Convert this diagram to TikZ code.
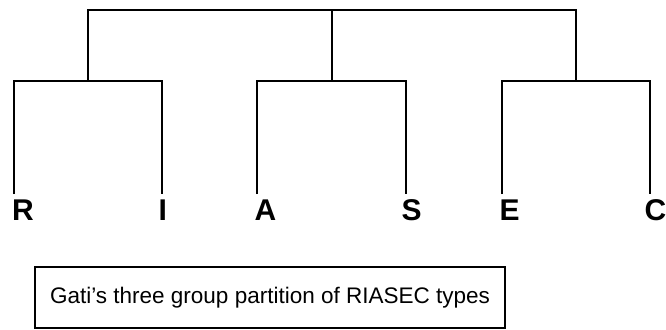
\documentclass[tikz,border=0pt]{standalone}
\usepackage{fontspec}
\setmainfont{Liberation Sans}
\begin{document}
\begin{tikzpicture}[x=1pt,y=-1pt,
  tree/.style={line width=2.5pt, line cap=butt, line join=miter},
  leaf/.style={font=\fontsize{30}{31}\selectfont\bfseries, inner sep=0pt, anchor=north west},
  capbox/.style={draw, line width=1.4pt, minimum width=470pt, minimum height=61pt, inner sep=0pt, font=\fontsize{22.5}{25}\selectfont}]
\useasboundingbox (0,0) rectangle (666,329);
% leaf tops
\coordinate (rt) at (14,194);
\coordinate (it) at (162,194);
\coordinate (at) at (257,194);
\coordinate (st) at (406,194);
\coordinate (et) at (502,194);
\coordinate (ct) at (650,194);
% group joints
\coordinate (g1) at (88,81);
\coordinate (g2) at (332,81);
\coordinate (g3) at (576,81);
\coordinate (top) at (332,10);
\draw[tree] (rt) |- (g1) -| (it);
\draw[tree] (at) |- (g2) -| (st);
\draw[tree] (et) |- (g3) -| (ct);
\draw[tree] (g1) |- (top) -| (g3);
\draw[tree] (g2) -- (top);
% letters
\node[leaf] (R) at (12,199.5) {R};
\node[leaf] (I) at (158.5,199.5) {I};
\node[leaf] (A) at (254.5,199.5) {A};
\node[leaf] (S) at (401.5,199.5) {S};
\node[leaf] (E) at (499.5,199.5) {E};
\node[leaf] (C) at (644.5,199.5) {C};
\node[capbox] (cap) at (270,297.5) {Gati’s three group partition of RIASEC types};
\end{tikzpicture}
\end{document}
